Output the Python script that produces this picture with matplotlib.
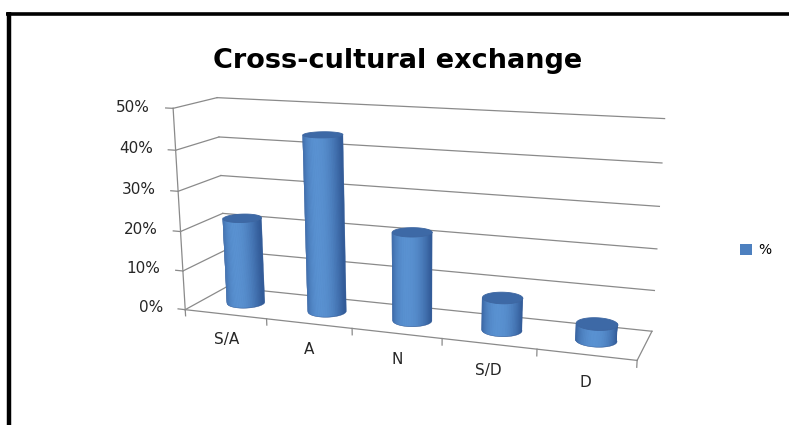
import numpy as np
import matplotlib
matplotlib.use("Agg")
import matplotlib.pyplot as plt
from matplotlib.lines import Line2D
from matplotlib.patches import Patch
from mpl_toolkits.mplot3d.art3d import Poly3DCollection

# ---- data ----
categories = ["S/A", "A", "N", "S/D", "D"]
shares = [0.22, 0.44, 0.22, 0.08, 0.04]
value_ticks = [0.0, 0.1, 0.2, 0.3, 0.4, 0.5]
value_tick_labels = ["0%", "10%", "20%", "30%", "40%", "50%"]
series_name = "%"
chart_title = "Cross-cultural exchange"

# ---- figure ----
W, H, DPI = 789, 425, 100
fig = plt.figure(figsize=(W / DPI, H / DPI), dpi=DPI)
fig.patch.set_facecolor("white")
plt.rcParams["font.family"] = ["DejaVu Sans"]

GRID = "#8a8a8a"
TEXT = "#262626"
DEPTH = 0.95
ZMAX = 0.5
RADIUS = 0.21
n = len(categories)

# camera aims a little right of centre and just above the floor
AIM_X, AIM_Z = 2.6, 0.07
XLIM = (0, 2 * AIM_X)
ZLIM = (AIM_Z - (ZMAX - AIM_Z), ZMAX)
Z_PER_UNIT = 4.45                      # box height of one full unit (100%)

side = 789
cx_px, cy_px = 410, 304
ax = fig.add_axes([(cx_px - side / 2) / W, 1 - (cy_px + side / 2) / H, side / W, side / H],
                  projection="3d", computed_zorder=False)
ELEV, AZIM = 16.6, -70.7
ax.set_proj_type("persp", focal_length=0.275)
ax.view_init(elev=ELEV, azim=AZIM, roll=0)
ax.set_xlim(*XLIM)
ax.set_ylim(0, DEPTH)
ax.set_zlim(*ZLIM)
ax.set_box_aspect((XLIM[1] - XLIM[0], DEPTH, (ZLIM[1] - ZLIM[0]) * Z_PER_UNIT), zoom=0.752)
ax.set_axis_off()
ax.patch.set_alpha(0)

M = ax.get_proj()


def to_screen(x, y, z):
    """Project a data point with the axes' own 3D projection matrix."""
    v = M @ np.array([x, y, z, 1.0])
    return v[0] / v[3], v[1] / v[3]


line_kw = dict(color=GRID, lw=0.9, clip_on=False)

# walls: horizontal gridlines on back and side walls, value ticks and labels
for z, lab in zip(value_ticks, value_tick_labels):
    ax.plot([0, n], [DEPTH, DEPTH], [z, z], zorder=1, **line_kw)
    ax.plot([0, 0], [0, DEPTH], [z, z], zorder=1, **line_kw)
    ax.plot([-0.09, 0], [0, 0], [z, z], zorder=5, **line_kw)
    px, py = to_screen(-0.28, 0, z)
    ax.text2D(px, py, lab, transform=ax.transData, ha="right", va="center",
              fontsize=11, color=TEXT, clip_on=False, zorder=6)

# value axis line, floor front and right edges, category ticks
ax.plot([0, 0], [0, 0], [0, ZMAX], zorder=5, **line_kw)
ax.plot([0, n], [0, 0], [0, 0], zorder=5, **line_kw)
ax.plot([n, n], [0, DEPTH], [0, 0], zorder=5, **line_kw)
for i in range(n + 1):
    ax.plot([i, i], [0, 0], [0, -0.016], zorder=5, **line_kw)
for i, cat in enumerate(categories):
    px, py = to_screen(i + 0.5, 0, -0.066)
    ax.text2D(px, py, cat, transform=ax.transData, ha="center", va="center",
              fontsize=11, color=TEXT, clip_on=False, zorder=6)

# cylinders: the camera-facing half of the side, shaded in overlapping strips
phi = np.deg2rad(AZIM)
light_angle = phi - np.arctan(0.25)
dark = np.array([0.20, 0.36, 0.60])
bright = np.array([0.35, 0.57, 0.82])
cap_color = (0.24, 0.41, 0.65)

t_side = phi + np.linspace(-np.pi / 2 - 0.05, np.pi / 2 + 0.05, 91)
t_full = np.linspace(0, 2 * np.pi, 121)
for i, v in enumerate(shares):
    cx, cy = i + 0.5, DEPTH / 2
    xs = cx + RADIUS * np.cos(t_side)
    ys = cy + RADIUS * np.sin(t_side)

    # smooth outline underneath the strips
    outline = list(zip(xs, ys, np.zeros_like(xs))) + list(zip(xs[::-1], ys[::-1], np.full_like(xs, v)))
    ax.add_collection3d(Poly3DCollection([outline], facecolors=[tuple(dark)],
                                         edgecolors=[tuple(dark)], linewidths=0.3, zorder=2))

    quads, cols = [], []
    last = len(t_side) - 1
    for k in range(last):
        k2 = min(k + 2, last)
        quads.append([(xs[k], ys[k], 0), (xs[k2], ys[k2], 0),
                      (xs[k2], ys[k2], v), (xs[k], ys[k], v)])
        tm = 0.5 * (t_side[k] + t_side[k + 1])
        f = np.clip(np.cos(tm - light_angle), 0, 1) ** 1.6
        cols.append(tuple(dark + (bright - dark) * f))
    ax.add_collection3d(Poly3DCollection(quads, facecolors=cols, edgecolors="none", linewidths=0,
                                         antialiased=True, zorder=3))

    xc = cx + RADIUS * np.cos(t_full)
    yc = cy + RADIUS * np.sin(t_full)
    ax.add_collection3d(Poly3DCollection([list(zip(xc, yc, np.full_like(xc, v)))],
                                         facecolors=[cap_color], edgecolors=[(0.24, 0.40, 0.63)],
                                         linewidths=0.6, zorder=4))

# title, legend, frame
fig.text(398 / W, 1 - 68 / H, chart_title, ha="center", va="baseline",
         fontsize=19.5, fontweight="bold", color="black")
fig.legend(handles=[Patch(facecolor=(0.30, 0.50, 0.75), edgecolor="none")], labels=[series_name],
           loc="center left", bbox_to_anchor=(740 / W, 1 - 250 / H), frameon=False,
           handlelength=0.85, handleheight=0.85, handletextpad=0.45,
           borderaxespad=0, borderpad=0, fontsize=10)
fig.add_artist(Line2D([6 / W, 1], [1 - 13.5 / H] * 2, transform=fig.transFigure,
                      color="black", lw=2.6, solid_capstyle="butt"))
fig.add_artist(Line2D([8.5 / W] * 2, [0, 1 - 12 / H], transform=fig.transFigure,
                      color="black", lw=3.2, solid_capstyle="butt"))

fig.savefig("out.png", dpi=DPI, facecolor="white")
